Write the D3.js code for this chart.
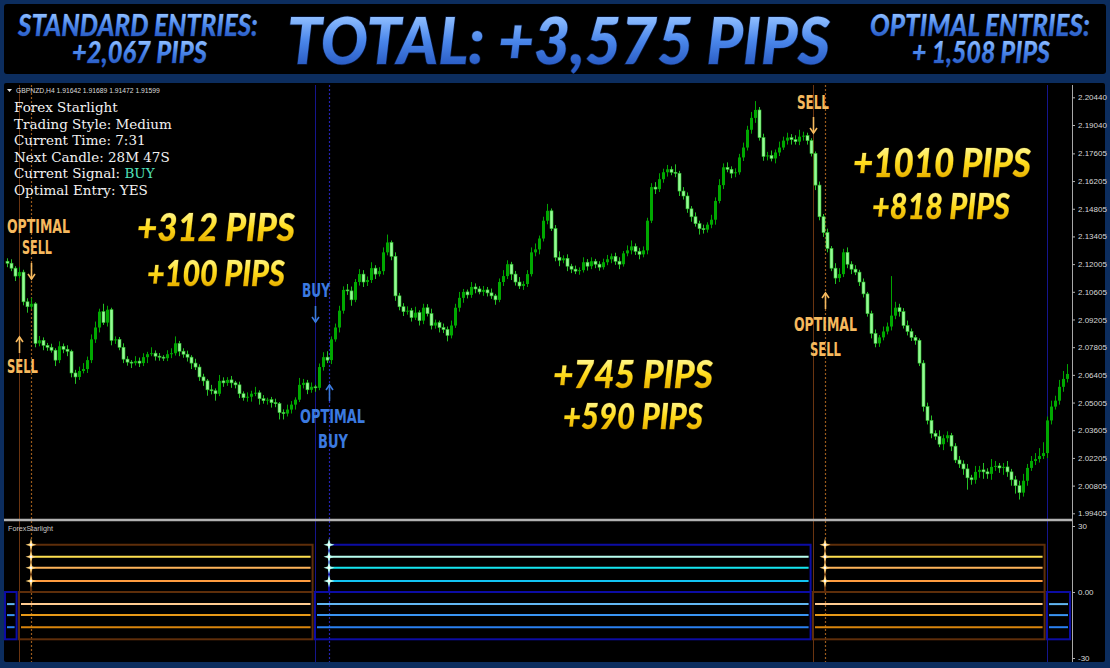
<!DOCTYPE html>
<html><head><meta charset="utf-8">
<script src="https://cdn.jsdelivr.net/npm/d3@7"></script>
<style>body{margin:0;background:#0c2d5e;}svg{display:block}</style>
</head><body>
<script>
// ---------------- DATA ----------------
const closes = [2.1205,2.1180,2.1140,2.1160,2.1010,2.0985,2.1000,2.0800,2.0815,2.0790,
2.0780,2.0765,2.0715,2.0785,2.0770,2.0760,2.0650,2.0630,2.0660,2.0670,
2.0715,2.0820,2.0880,2.0960,2.0905,2.0970,2.0815,2.0820,2.0780,2.0720,
2.0705,2.0700,2.0710,2.0700,2.0730,2.0745,2.0750,2.0735,2.0730,2.0725,
2.0745,2.0750,2.0800,2.0760,2.0745,2.0730,2.0700,2.0680,2.0630,2.0610,
2.0565,2.0560,2.0545,2.0610,2.0600,2.0615,2.0600,2.0590,2.0545,2.0525,
2.0530,2.0545,2.0550,2.0520,2.0510,2.0515,2.0500,2.0495,2.0450,2.0445,
2.0465,2.0490,2.0515,2.0590,2.0600,2.0565,2.0580,2.0575,2.0680,2.0730,
2.0715,2.0820,2.0880,2.0965,2.1070,2.1065,2.1020,2.1110,2.1150,2.1110,
2.1120,2.1180,2.1150,2.1165,2.1260,2.1310,2.1240,2.1040,2.0985,2.0960,
2.0965,2.0930,2.0955,2.0915,2.0980,2.0950,2.0890,2.0905,2.0880,2.0870,
2.0840,2.0890,2.0980,2.1030,2.1060,2.1045,2.1085,2.1075,2.1060,2.1070,
2.1055,2.1040,2.1020,2.1110,2.1140,2.1200,2.1150,2.1110,2.1090,2.1100,
2.1150,2.1260,2.1275,2.1330,2.1420,2.1470,2.1380,2.1235,2.1220,2.1230,
2.1190,2.1175,2.1165,2.1170,2.1210,2.1190,2.1215,2.1200,2.1185,2.1210,
2.1225,2.1240,2.1215,2.1200,2.1255,2.1270,2.1290,2.1265,2.1250,2.1270,
2.1420,2.1590,2.1580,2.1630,2.1665,2.1680,2.1665,2.1660,2.1570,2.1545,
2.1480,2.1440,2.1405,2.1380,2.1375,2.1400,2.1425,2.1520,2.1600,2.1690,
2.1680,2.1660,2.1665,2.1740,2.1790,2.1880,2.1940,2.1980,2.1840,2.1745,
2.1750,2.1735,2.1765,2.1790,2.1825,2.1840,2.1830,2.1820,2.1845,2.1850,
2.1825,2.1760,2.1600,2.1440,2.1360,2.1280,2.1180,2.1130,2.1150,2.1260,
2.1200,2.1175,2.1160,2.1110,2.1050,2.0950,2.0850,2.0800,2.0830,2.0860,
2.0885,2.0940,2.0980,2.0960,2.0890,2.0860,2.0830,2.0815,2.0700,2.0480,
2.0410,2.0345,2.0330,2.0290,2.0320,2.0335,2.0280,2.0210,2.0190,2.0165,
2.0120,2.0110,2.0150,2.0160,2.0150,2.0140,2.0175,2.0180,2.0170,2.0175,
2.0150,2.0110,2.0080,2.0045,2.0105,2.0170,2.0205,2.0215,2.0230,2.0245,
2.0410,2.0480,2.0510,2.0580,2.0620,2.0645];

const opens = [2.1215,2.1205,2.1180,2.1140,2.1160,2.1010,2.0985,2.1000,2.0800,2.0815,
2.0790,2.0780,2.0765,2.0715,2.0785,2.0770,2.0760,2.0650,2.0630,2.0660,
2.0670,2.0715,2.0820,2.0880,2.0960,2.0905,2.0970,2.0815,2.0820,2.0780,
2.0720,2.0705,2.0700,2.0710,2.0700,2.0730,2.0745,2.0750,2.0735,2.0730,
2.0725,2.0745,2.0750,2.0800,2.0760,2.0745,2.0730,2.0700,2.0680,2.0630,
2.0610,2.0565,2.0560,2.0545,2.0610,2.0600,2.0615,2.0600,2.0590,2.0545,
2.0525,2.0530,2.0545,2.0550,2.0520,2.0510,2.0515,2.0500,2.0495,2.0450,
2.0445,2.0465,2.0490,2.0515,2.0590,2.0600,2.0565,2.0580,2.0575,2.0680,
2.0730,2.0715,2.0820,2.0880,2.0965,2.1070,2.1065,2.1020,2.1110,2.1150,
2.1110,2.1120,2.1180,2.1150,2.1165,2.1260,2.1310,2.1240,2.1040,2.0985,
2.0960,2.0965,2.0930,2.0955,2.0915,2.0980,2.0950,2.0890,2.0905,2.0880,
2.0870,2.0840,2.0890,2.0980,2.1030,2.1060,2.1045,2.1085,2.1075,2.1060,
2.1070,2.1055,2.1040,2.1020,2.1110,2.1140,2.1200,2.1150,2.1110,2.1090,
2.1100,2.1150,2.1260,2.1275,2.1330,2.1420,2.1470,2.1380,2.1235,2.1220,
2.1230,2.1190,2.1175,2.1165,2.1170,2.1210,2.1190,2.1215,2.1200,2.1185,
2.1210,2.1225,2.1240,2.1215,2.1200,2.1255,2.1270,2.1290,2.1265,2.1250,
2.1270,2.1420,2.1590,2.1580,2.1630,2.1665,2.1680,2.1665,2.1660,2.1570,
2.1545,2.1480,2.1440,2.1405,2.1380,2.1375,2.1400,2.1425,2.1520,2.1600,
2.1690,2.1680,2.1660,2.1665,2.1740,2.1790,2.1880,2.1940,2.1980,2.1840,
2.1745,2.1750,2.1735,2.1765,2.1790,2.1825,2.1840,2.1830,2.1820,2.1845,
2.1850,2.1825,2.1760,2.1600,2.1440,2.1360,2.1280,2.1180,2.1130,2.1150,
2.1260,2.1200,2.1175,2.1160,2.1110,2.1050,2.0950,2.0850,2.0800,2.0830,
2.0860,2.0885,2.0940,2.0980,2.0960,2.0890,2.0860,2.0830,2.0815,2.0700,
2.0480,2.0410,2.0345,2.0330,2.0290,2.0320,2.0335,2.0280,2.0210,2.0190,
2.0165,2.0120,2.0110,2.0150,2.0160,2.0150,2.0140,2.0175,2.0180,2.0170,
2.0175,2.0150,2.0110,2.0080,2.0045,2.0105,2.0170,2.0205,2.0215,2.0230,
2.0245,2.0410,2.0480,2.0510,2.0580,2.0620];

// wick lengths beyond the candle body, in pips
const upperWicks = [15,20,10,25,12,18,30,8,22,15,
12,18,10,25,14,20,8,16,22,30,
18,25,30,15,40,20,10,15,12,20,
15,10,25,18,20,12,30,14,16,10,
20,25,35,12,15,18,10,22,14,16,
10,25,12,30,18,14,20,10,16,12,
22,15,30,12,18,10,14,20,8,16,
25,18,12,35,20,15,22,10,18,25,
30,15,20,25,18,30,22,15,25,20,
18,30,15,20,25,40,10,20,15,18,
22,14,30,12,20,18,25,15,10,20,
15,25,20,30,15,12,25,18,14,20,
15,22,10,18,30,20,12,16,25,14,
20,25,30,15,20,35,12,18,30,15,
20,12,18,14,25,16,20,12,15,18,
22,14,18,20,12,25,30,15,18,20,
15,20,25,30,18,22,15,40,12,20,
18,14,22,15,20,12,25,18,30,20,
25,15,20,18,25,20,30,45,15,20,
18,25,15,30,20,25,18,22,35,20,
15,12,10,18,14,20,12,25,30,18,
25,15,20,12,18,10,15,20,12,25,
20,200,30,20,18,25,15,12,10,15,
20,25,15,30,18,20,12,15,20,18,
25,15,30,20,35,18,40,25,15,20,
30,15,20,25,35,20,25,30,40,55,
20,30,25,35,40,50];

const lowerWicks = [20,15,25,10,18,30,12,20,15,25,
18,12,30,15,20,25,22,35,15,12,
20,15,18,25,12,20,25,18,15,20,
18,25,12,20,15,30,10,22,18,14,
15,20,12,25,18,22,30,15,20,25,
30,18,35,12,20,15,25,18,22,15,
20,25,12,30,15,20,25,18,35,30,
15,20,25,12,18,22,15,20,12,18,
15,20,12,25,15,20,30,12,18,25,
20,15,25,12,18,15,20,25,18,22,
15,20,12,25,18,14,20,16,25,18,
30,15,12,20,25,18,15,22,12,20,
18,15,25,12,20,15,30,18,15,20,
15,12,20,25,15,18,12,20,30,15,
25,20,15,18,12,22,15,20,18,12,
15,20,18,25,12,15,20,18,25,15,
20,12,25,15,18,22,15,20,25,18,
20,25,15,30,20,15,18,25,12,20,
15,25,20,12,18,15,20,25,15,22,
20,15,25,18,12,20,25,15,18,20,
20,15,25,18,22,20,15,30,20,15,
20,25,15,20,18,15,25,20,18,15,
15,20,18,25,15,20,18,22,15,25,
20,25,18,15,30,20,25,15,20,30,
60,25,20,30,35,25,30,20,25,35,
25,30,40,35,20,25,15,20,18,15,
25,20,15,20,25,18];

const priceTicks = [2.20440,2.19040,2.17605,2.16205,2.14805,2.13405,2.12005,2.10605,2.09205,2.07805,2.06405,2.05005,2.03605,2.02205,2.00805,1.99405];
const indTicks = [30, 0, -30];
const indTickLabels = ["30", "0.00", "-30"];

// signals (candle index of standard entry / optimal entry)
const signalDir = ["buy", "sell", "buy", "sell", "buy"];
const signalAt = [-0.5, 3, 77, 201.5, 260];
const optimalAt = [null, 6, 80.5, 204.5, null];
const chartEndIdx = 265.75;

// indicator levels
const upperLevels = [21.5, 16, 11, 5];
const lowerLevels = [-5.5, -10.5, -16];
const lowerBottom = -21.5;

const infoLines = ["Forex Starlight", "Trading Style: Medium", "Current Time: 7:31", "Next Candle: 28M 47S", "Current Signal: ", "Optimal Entry: YES"];
const pipsTexts = ["+312 PIPS", "+100 PIPS", "+745 PIPS", "+590 PIPS", "+1010 PIPS", "+818 PIPS"];
const bannerTexts = ["STANDARD ENTRIES:", "+2,067 PIPS", "TOTAL: +3,575 PIPS", "OPTIMAL ENTRIES:", "+ 1,508 PIPS"];

// ---------------- DRAW ----------------
const W = 1110, H = 668;
const svg = d3.select("body").append("svg").attr("width", W).attr("height", H);
const defs = svg.append("defs");
let gid = 0;
function grad(y1, y2, stops) {
  const id = "g" + (gid++);
  const g = defs.append("linearGradient").attr("id", id).attr("gradientUnits", "userSpaceOnUse")
    .attr("x1", 0).attr("y1", y1).attr("x2", 0).attr("y2", y2);
  stops.forEach(s => g.append("stop").attr("offset", s[0]).attr("stop-color", s[1]));
  return `url(#${id})`;
}
// squeeze a single-line text horizontally to a measured width
function fit(sel, x, y, w) {
  sel.attr("x", 0).attr("y", 0);
  const nat = sel.node().getComputedTextLength();
  sel.attr("transform", `translate(${x},${y}) scale(${(w / nat).toFixed(4)},1)`);
  return sel;
}
const blueStops = [["0%", "#8cbcff"], ["50%", "#4a86ea"], ["100%", "#2b5ec6"]];
const yelStops = [["0%", "#fff68a"], ["50%", "#ffdc1e"], ["100%", "#e8b200"]];
const f = defs.append("filter").attr("id", "sh").attr("x", "-10%").attr("y", "-20%").attr("width", "130%").attr("height", "150%");
f.append("feDropShadow").attr("dx", 2).attr("dy", 2).attr("stdDeviation", 1).attr("flood-color", "#000").attr("flood-opacity", 1);
defs.append("clipPath").attr("id", "priceClip").append("rect").attr("x", 4).attr("y", 85).attr("width", 1068).attr("height", 433);

svg.append("rect").attr("width", W).attr("height", H).attr("fill", "#0c2d5e");
svg.append("rect").attr("x", 4).attr("y", 4).attr("width", 1102).attr("height", 70).attr("rx", 3).attr("fill", "#000");
svg.append("rect").attr("x", 4).attr("y", 83).attr("width", 1101).attr("height", 579).attr("rx", 2).attr("fill", "#000");

// banner
const bannerPos = [
  {x: 18, w: 240, y: 36, fs: 30},
  {x: 72, w: 135, y: 63, fs: 30},
  {x: 287, w: 543, y: 64, fs: 64},
  {x: 870, w: 220, y: 36, fs: 30},
  {x: 912, w: 138, y: 63, fs: 30}
];
bannerTexts.forEach((s, i) => {
  const p = bannerPos[i];
  const t = svg.append("text").text(s)
    .style("font-family", "Lato, 'Liberation Sans', sans-serif").style("font-weight", 900).style("font-style", "italic")
    .style("font-size", p.fs + "px").attr("fill", grad(-p.fs * 0.72, 0, blueStops))
    .attr("stroke", "#0a1c45").attr("stroke-width", i === 2 ? 1.4 : 0.8).style("paint-order", "stroke");
  fit(t, p.x, p.y, p.w);
});

// scales
const xScale = d3.scaleLinear().domain([0, closes.length - 1]).range([7, 7 + 4 * (closes.length - 1)]);
const yScale = d3.scaleLinear().domain([1.99405, 2.19040]).range([513.3, 125]);
const yInd = d3.scaleLinear().domain([-30, 30]).range([658, 526]);

const colSell = {solid: "#6a3410", dot: "#9a5a1c", box: "#5e2e0a", up: ["#ffe050", "#ffb45a", "#ff9c40"], low: ["#ffcb90", "#e89a18", "#d8840c"], star: "#ffd27a", label: "#f6b95e"};
const colBuy = {solid: "#15158c", dot: "#2424b0", box: "#0c0ca4", up: ["#b8fff0", "#14e6f0", "#12c4f2"], low: ["#62b6f2", "#3a94f2", "#2a80f0"], star: "#b8fff0", label: "#3b7ae0"};
const colOf = d => d === "sell" ? colSell : colBuy;

// vertical signal lines
const vg = svg.append("g");
signalAt.forEach((a, k) => {
  const c = colOf(signalDir[k]);
  if (a >= 0) vg.append("line").attr("x1", Math.round(xScale(a)) + 0.5).attr("x2", Math.round(xScale(a)) + 0.5).attr("y1", 85).attr("y2", 662).attr("stroke", c.solid).attr("stroke-width", 1);
  if (optimalAt[k] !== null) vg.append("line").attr("x1", Math.round(xScale(optimalAt[k])) + 0.5).attr("x2", Math.round(xScale(optimalAt[k])) + 0.5).attr("y1", 85).attr("y2", 662).attr("stroke", c.dot).attr("stroke-width", 1.2).attr("stroke-dasharray", "2,2");
});

// candles
const candles = closes.map((c, i) => {
  const o = opens[i];
  return {i, o, c, h: Math.max(o, c) + upperWicks[i] / 10000, l: Math.min(o, c) - lowerWicks[i] / 10000, bull: c >= o};
});
const cg = svg.append("g").attr("clip-path", "url(#priceClip)");
cg.selectAll("line.w").data(candles).join("line").attr("class", "w")
  .attr("x1", d => Math.round(xScale(d.i)) + 0.5).attr("x2", d => Math.round(xScale(d.i)) + 0.5)
  .attr("y1", d => yScale(d.h)).attr("y2", d => yScale(d.l))
  .attr("stroke", d => d.bull ? "#00a400" : "#24c024").attr("stroke-width", 1);
cg.selectAll("rect.b").data(candles).join("rect").attr("class", "b")
  .attr("x", d => Math.round(xScale(d.i)) - 1).attr("width", 3)
  .attr("y", d => yScale(Math.max(d.o, d.c)))
  .attr("height", d => Math.max(1, yScale(Math.min(d.o, d.c)) - yScale(Math.max(d.o, d.c))))
  .attr("fill", d => d.bull ? "#00a800" : "#96fa96")
  .attr("stroke", d => d.bull ? "none" : "#2cc42c").attr("stroke-width", 0.6);

// separator and axis lines
svg.append("line").attr("x1", 4).attr("x2", 1072).attr("y1", 520).attr("y2", 520).attr("stroke", "#b2b2b2").attr("stroke-width", 2.5);
svg.append("line").attr("x1", 1072.5).attr("x2", 1072.5).attr("y1", 85).attr("y2", 662).attr("stroke", "#a8a8a8").attr("stroke-width", 1);

const axisFont = "8px 'Liberation Sans Narrow', 'Liberation Sans', sans-serif";
const pa = svg.append("g").attr("transform", "translate(1072,0)")
  .call(d3.axisRight(yScale).tickValues(priceTicks).tickFormat(d3.format(".5f")).tickSize(3).tickPadding(3));
pa.select(".domain").remove();
pa.selectAll("line").attr("stroke", "#b0b0b0");
pa.selectAll("text").attr("fill", "#d8d8d8").style("font", axisFont);
const ia = svg.append("g").attr("transform", "translate(1072,0)")
  .call(d3.axisRight(yInd).tickValues(indTicks).tickFormat(d => indTickLabels[indTicks.indexOf(d)]).tickSize(3).tickPadding(3));
ia.select(".domain").remove();
ia.selectAll("line").attr("stroke", "#b0b0b0");
ia.selectAll("text").attr("fill", "#d8d8d8").style("font", axisFont);

// indicator boxes
const ig = svg.append("g");
const starPath = "M0,-6.5 L1.3,-1.3 L5.5,0 L1.3,1.3 L0,6.5 L-1.3,1.3 L-5.5,0 L-1.3,-1.3Z";
signalAt.forEach((a, k) => {
  const c = colOf(signalDir[k]);
  const x0 = xScale(a);
  const x1 = k + 1 < signalAt.length ? xScale(signalAt[k + 1]) - 2.4 : xScale(chartEndIdx);
  ig.append("rect").attr("x", x0).attr("y", yInd(0)).attr("width", x1 - x0).attr("height", yInd(lowerBottom) - yInd(0))
    .attr("fill", "none").attr("stroke", c.box).attr("stroke-width", 2);
  lowerLevels.forEach((lv, j) => {
    ig.append("line").attr("x1", x0 + 2).attr("x2", x1 - 2).attr("y1", yInd(lv)).attr("y2", yInd(lv))
      .attr("stroke", c.low[j]).attr("stroke-width", 2);
  });
  const o = optimalAt[k];
  if (o !== null) {
    const xo = xScale(o);
    ig.append("path").attr("d", `M${xo},${yInd(0)} V${yInd(upperLevels[0])} H${x1} V${yInd(0)}`)
      .attr("fill", "none").attr("stroke", c.box).attr("stroke-width", 2);
    upperLevels.slice(1).forEach((lv, j) => {
      ig.append("line").attr("x1", xo).attr("x2", x1 - 2).attr("y1", yInd(lv)).attr("y2", yInd(lv))
        .attr("stroke", c.up[j]).attr("stroke-width", 2);
    });
    upperLevels.forEach(lv => {
      ig.append("path").attr("d", starPath).attr("transform", `translate(${xo},${yInd(lv)})`).attr("fill", c.star);
      ig.append("circle").attr("cx", xo).attr("cy", yInd(lv)).attr("r", 1.2).attr("fill", "#fff");
    });
  }
});
fit(svg.append("text").text("ForexStarlight").attr("fill", "#c8c8c8").style("font", "8px 'Liberation Sans', sans-serif"), 8, 531, 45);

// chart header
svg.append("path").attr("d", "M7,89 L12,89 L9.5,92Z").attr("fill", "#e0e0e0");
fit(svg.append("text").text("GBPNZD,H4  1.91642 1.91689 1.91472 1.91599").attr("fill", "#dcdcdc").style("font", "7px 'Liberation Sans', sans-serif"), 16, 93, 144);

// info text
const info = svg.append("g").style("font", "13.5px 'DejaVu Serif', serif").attr("fill", "#f2f2f2");
infoLines.forEach((t, i) => {
  const tx = info.append("text").attr("x", 14).attr("y", 112 + i * 16.6).text(t);
  if (i === 4) tx.append("tspan").attr("fill", "#52e2bc").text("BUY");
});

// signal labels
const lblFont = "'Liberation Sans Narrow', 'DejaVu Sans Condensed', sans-serif";
const labels = [
  {t: "OPTIMAL", k: 1, opt: true, dx: 7.5, y: 233, w: 63},
  {t: "SELL", k: 1, opt: true, dx: 6, y: 254, w: 30},
  {t: "SELL", k: 1, opt: false, dx: 3.5, y: 373, w: 31},
  {t: "BUY", k: 2, opt: false, dx: 1, y: 297, w: 28},
  {t: "OPTIMAL", k: 2, opt: true, dx: 3.5, y: 423, w: 65},
  {t: "BUY", k: 2, opt: true, dx: 4, y: 448, w: 30},
  {t: "SELL", k: 3, opt: false, dx: 0, y: 109, w: 32},
  {t: "OPTIMAL", k: 3, opt: true, dx: 0.5, y: 331, w: 63},
  {t: "SELL", k: 3, opt: true, dx: 0.5, y: 356, w: 31}
];
labels.forEach(l => {
  const cx = xScale(l.opt ? optimalAt[l.k] : signalAt[l.k]) + l.dx;
  const t = svg.append("text").text(l.t).attr("fill", colOf(signalDir[l.k]).label)
    .style("font-family", lblFont).style("font-weight", "bold").style("font-size", "19px");
  fit(t, cx - l.w / 2, l.y, l.w);
});
const arrows = [
  {k: 1, opt: true, up: false, y1: 263, y2: 279},
  {k: 1, opt: false, up: true, y1: 337, y2: 353},
  {k: 2, opt: false, up: false, y1: 306, y2: 322},
  {k: 2, opt: true, up: true, y1: 385, y2: 401},
  {k: 3, opt: false, up: false, y1: 117, y2: 133},
  {k: 3, opt: true, up: true, y1: 293, y2: 309}
];
arrows.forEach(a => {
  const x = Math.round(xScale(a.opt ? optimalAt[a.k] : signalAt[a.k])) + 0.5;
  const col = colOf(signalDir[a.k]).label;
  const tip = a.up ? a.y1 : a.y2, dir = a.up ? 1 : -1;
  svg.append("line").attr("x1", x).attr("x2", x).attr("y1", a.y1).attr("y2", a.y2).attr("stroke", col).attr("stroke-width", 1.6);
  svg.append("path").attr("d", `M${x - 3.5},${tip + dir * 5} L${x},${tip} L${x + 3.5},${tip + dir * 5}`)
    .attr("fill", "none").attr("stroke", col).attr("stroke-width", 1.6);
});

// yellow pips results
const pipsPos = [
  {x: 137, w: 158, y: 241, fs: 38},
  {x: 147, w: 138, y: 285.5, fs: 36.5},
  {x: 553, w: 160, y: 388, fs: 38},
  {x: 563, w: 140, y: 429, fs: 36.5},
  {x: 853, w: 178, y: 177, fs: 39},
  {x: 872, w: 138, y: 219, fs: 36}
];
pipsTexts.forEach((s, i) => {
  const p = pipsPos[i];
  const t = svg.append("text").text(s)
    .style("font-family", "Lato, 'Liberation Sans', sans-serif").style("font-weight", 900).style("font-style", "italic")
    .style("font-size", p.fs + "px").attr("fill", grad(-p.fs * 0.74, 0, yelStops))
    .attr("stroke", "#4a3600").attr("stroke-width", 0.8).style("paint-order", "stroke").attr("filter", "url(#sh)");
  fit(t, p.x, p.y, p.w);
});
</script>
</body></html>
